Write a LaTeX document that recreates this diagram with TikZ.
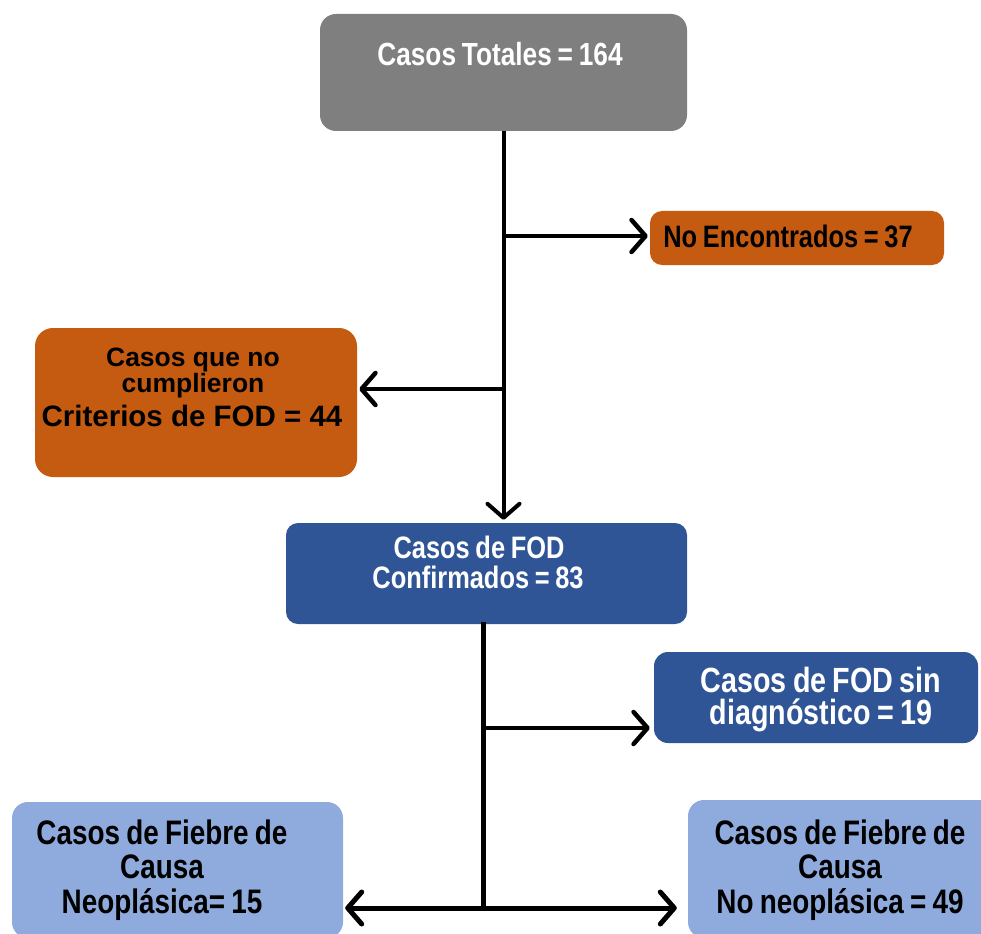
\documentclass[tikz,border=0pt]{standalone}
\usepackage{fontspec}
\setmainfont{Liberation Sans}
\newfontfamily\nar{Liberation Sans}[FakeStretch=0.82,WordSpace=1.3]
\newfontfamily\nart{Liberation Sans}[FakeStretch=0.82,WordSpace=0.8]
\usetikzlibrary{arrows.meta}
\definecolor{cgray}{HTML}{7F7F7F}
\definecolor{corange}{HTML}{C55A11}
\definecolor{cdblue}{HTML}{2F5597}
\definecolor{clblue}{HTML}{8FAADC}
\tikzset{
  box/.style={rectangle, inner sep=0pt, draw=none},
  txt/.style={anchor=base, inner sep=0pt, text depth=0pt},
  arr/.style={line width=4.5pt, -{Straight Barb[length=14pt,width=32pt,round]}},
}
\begin{document}
\begin{tikzpicture}[x=1pt,y=-1pt]
\useasboundingbox (0,0) rectangle (981,933);
\clip (0,0) rectangle (981,933);
% boxes
\node[box, fill=cgray, rounded corners=16pt, minimum width=367pt, minimum height=117pt] (top) at (503.5,72.5) {};
\node[box, fill=corange, rounded corners=12pt, minimum width=294pt, minimum height=54pt] (ne) at (797,238) {};
\node[box, fill=corange, rounded corners=18pt, minimum width=322pt, minimum height=149pt] (crit) at (196,402.5) {};
\node[box, fill=cdblue, rounded corners=12pt, minimum width=401pt, minimum height=101pt] (conf) at (486.5,573.5) {};
\node[box, fill=cdblue, rounded corners=14pt, minimum width=324pt, minimum height=91pt] (sin) at (816,697.5) {};
\node[box, fill=clblue, rounded corners=16pt, minimum width=331pt, minimum height=136pt] (neo) at (177.5,870) {};
\node[box, fill=clblue, rounded corners=16pt, minimum width=307pt, minimum height=138pt] (non) at (841.5,869) {};
% texts
\node[txt, text=white, font=\nart\bfseries\fontsize{32}{32}\selectfont] (t1) at (500,65.5) {Casos Totales = 164};
\node[txt, text=black, font=\nart\bfseries\fontsize{31}{31}\selectfont] (t2) at (788,247) {No Encontrados = 37};
\node[txt, text=black, font=\bfseries\fontsize{26.5}{26.5}\selectfont] (t3a) at (193,366) {Casos que no};
\node[txt, text=black, font=\bfseries\fontsize{26.5}{26.5}\selectfont] (t3b) at (193,392) {cumplieron};
\node[txt, text=black, font=\bfseries\fontsize{29.5}{29.5}\selectfont] (t3c) at (192,426.5) {Criterios de FOD = 44};
\node[txt, text=white, font=\nart\bfseries\fontsize{31}{31}\selectfont] (t4a) at (479,558.5) {Casos de FOD};
\node[txt, text=white, font=\nart\bfseries\fontsize{31}{31}\selectfont] (t4b) at (478,588) {Confirmados = 83};
\node[txt, text=white, font=\nar\bfseries\fontsize{35}{35}\selectfont] (t5a) at (821,692.5) {Casos de FOD sin};
\node[txt, text=white, font=\nar\bfseries\fontsize{35}{35}\selectfont] (t5b) at (821,724) {diagnóstico = 19};
\node[txt, text=black, font=\nar\bfseries\fontsize{34}{34}\selectfont] (t6a) at (162,844) {Casos de Fiebre de};
\node[txt, text=black, font=\nar\bfseries\fontsize{34}{34}\selectfont] (t6b) at (162,878) {Causa};
\node[txt, text=black, font=\nar\bfseries\fontsize{34}{34}\selectfont] (t6c) at (162,913) {Neoplásica= 15};
\node[txt, text=black, font=\nar\bfseries\fontsize{34}{34}\selectfont] (t7a) at (840,844) {Casos de Fiebre de};
\node[txt, text=black, font=\nar\bfseries\fontsize{34}{34}\selectfont] (t7b) at (840,878) {Causa};
\node[txt, text=black, font=\nar\bfseries\fontsize{34}{34}\selectfont] (t7c) at (840,913) {No neoplásica = 49};
% connectors
\coordinate (b1) at (top.south |- 0,236);
\coordinate (b2) at (top.south |- 0,389);
\draw[arr, line width=4pt] (top.south) -- ([yshift=3pt]top.south |- conf.north);
\draw[arr] ([xshift=-2pt]b1) -- ([xshift=-2pt]ne.west |- b1);
\draw[arr] ([xshift=2pt]b2) -- ([xshift=2pt]crit.east |- b2);
\coordinate (v1) at (483,622);
\coordinate (b3) at (483,728);
\coordinate (v2) at (483,908);
\draw[line width=5pt] (v1) -- (v2);
\draw[arr] ([xshift=-2pt]b3) -- ([xshift=-4pt]sin.west |- b3);
\draw[arr, line width=5pt] (v2) -- ([xshift=2pt]neo.east |- v2);
\draw[arr, line width=5pt] (v2) -- ([xshift=-11pt]non.west |- v2);
\end{tikzpicture}
\end{document}
